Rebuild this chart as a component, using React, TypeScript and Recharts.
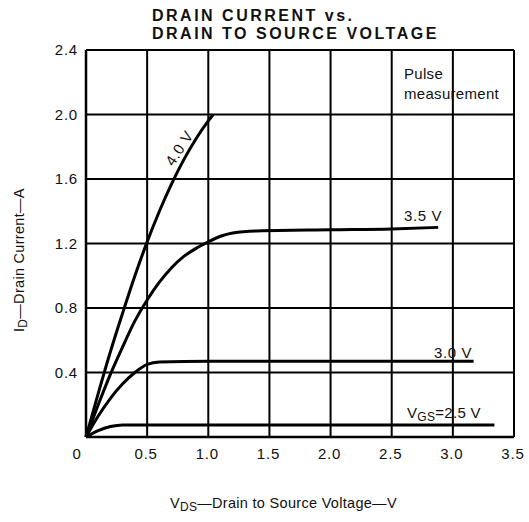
import { LineChart, Line, XAxis, YAxis, CartesianGrid } from "recharts";

const xTicks = [0, 0.5, 1.0, 1.5, 2.0, 2.5, 3.0, 3.5];
const yTicks = [0, 0.4, 0.8, 1.2, 1.6, 2.0, 2.4];

// ID vs VDS for each gate voltage
const vgs40 = [
  { v: 0, i: 0 }, { v: 0.1, i: 0.27 }, { v: 0.2, i: 0.53 }, { v: 0.3, i: 0.77 },
  { v: 0.4, i: 1.0 }, { v: 0.5, i: 1.21 }, { v: 0.6, i: 1.4 }, { v: 0.7, i: 1.57 },
  { v: 0.8, i: 1.72 }, { v: 0.9, i: 1.85 }, { v: 1.0, i: 1.96 }, { v: 1.04, i: 2.0 },
];
const vgs35 = [
  { v: 0, i: 0 }, { v: 0.1, i: 0.2 }, { v: 0.2, i: 0.39 }, { v: 0.3, i: 0.56 },
  { v: 0.4, i: 0.72 }, { v: 0.5, i: 0.85 }, { v: 0.6, i: 0.96 }, { v: 0.7, i: 1.05 },
  { v: 0.8, i: 1.12 }, { v: 0.9, i: 1.17 }, { v: 1.0, i: 1.21 }, { v: 1.1, i: 1.245 },
  { v: 1.2, i: 1.265 }, { v: 1.4, i: 1.278 }, { v: 2.0, i: 1.285 }, { v: 2.5, i: 1.29 },
  { v: 2.88, i: 1.3 },
];
const vgs30 = [
  { v: 0, i: 0 }, { v: 0.1, i: 0.13 }, { v: 0.2, i: 0.24 }, { v: 0.3, i: 0.33 },
  { v: 0.4, i: 0.4 }, { v: 0.5, i: 0.45 }, { v: 0.6, i: 0.465 }, { v: 1.0, i: 0.47 },
  { v: 3.17, i: 0.47 },
];
const vgs25 = [
  { v: 0, i: 0 }, { v: 0.1, i: 0.04 }, { v: 0.2, i: 0.065 }, { v: 0.3, i: 0.075 },
  { v: 3.34, i: 0.075 },
];

const font = "'Liberation Sans', Arial, sans-serif";

const XTick = ({ x, y, payload }: any) => (
  <text x={payload.value === 0 ? x - 9 : x - 1} y={y + 14} textAnchor="middle"
    fontFamily={font} fontSize={15} letterSpacing={0.8} fill="#111">
    {payload.value === 0 ? "0" : payload.value.toFixed(1)}
  </text>
);

const YTick = ({ x, y, payload }: any) =>
  payload.value === 0 ? null : (
    <text x={x} y={y + 5} textAnchor="end" fontFamily={font} fontSize={15} letterSpacing={0.8} fill="#111">
      {payload.value.toFixed(1)}
    </text>
  );

const txt = (left: number, top: number, content: any, extra: any = {}) => (
  <div style={{ position: "absolute", left, top, fontFamily: font, fontSize: 15, color: "#111", whiteSpace: "nowrap", lineHeight: 1, letterSpacing: 0.6, ...extra }}>
    {content}
  </div>
);

const sub = (s: string) => <sub style={{ fontSize: 12, verticalAlign: "-3px" }}>{s}</sub>;

export default function App() {
  return (
    <div style={{ position: "absolute", left: 0, top: 0, width: 529, height: 522, background: "#fff" }}>
      <LineChart width={529} height={522} margin={{ top: 50, right: 15, left: 26, bottom: 55 }}>
        <CartesianGrid stroke="#000" strokeWidth={2} />
        <XAxis type="number" dataKey="v" domain={[0, 3.5]} ticks={xTicks} tick={<XTick />}
          tickLine={false} axisLine={{ stroke: "#000", strokeWidth: 2.5 }} height={30} allowDuplicatedCategory={false} />
        <YAxis type="number" domain={[0, 2.4]} ticks={yTicks} tick={<YTick />} width={60}
          tickLine={false} axisLine={{ stroke: "#000", strokeWidth: 2.5 }} />
        <Line data={vgs40} dataKey="i" type="monotone" stroke="#000" strokeWidth={3} dot={false} isAnimationActive={false} />
        <Line data={vgs35} dataKey="i" type="monotone" stroke="#000" strokeWidth={3} dot={false} isAnimationActive={false} />
        <Line data={vgs30} dataKey="i" type="monotone" stroke="#000" strokeWidth={3} dot={false} isAnimationActive={false} />
        <Line data={vgs25} dataKey="i" type="monotone" stroke="#000" strokeWidth={3} dot={false} isAnimationActive={false} />
      </LineChart>
      {txt(152, 7, <>DRAIN CURRENT vs.<br />DRAIN TO SOURCE VOLTAGE</>, { fontWeight: "bold", fontSize: 16, letterSpacing: 2.5, lineHeight: "18px" })}
      {txt(404, 64, <>Pulse<br />measurement</>, { lineHeight: "20px", letterSpacing: 0.3 })}
      {txt(179, 148, "4.0 V", { transform: "translate(-50%, -50%) rotate(-57deg)" })}
      {txt(404, 208, "3.5 V")}
      {txt(434, 345, "3.0 V")}
      {txt(407, 405, <>V{sub("GS")}=2.5 V</>, { letterSpacing: 0.3 })}
      {txt(170, 496, <>V{sub("DS")}—Drain to Source Voltage—V</>, { fontSize: 14.5, letterSpacing: 0.3 })}
      {txt(12, 332, <>I{sub("D")}—Drain Current—A</>, { transform: "rotate(-90deg)", transformOrigin: "left top", fontSize: 14.5, letterSpacing: 0.3 })}
    </div>
  );
}
